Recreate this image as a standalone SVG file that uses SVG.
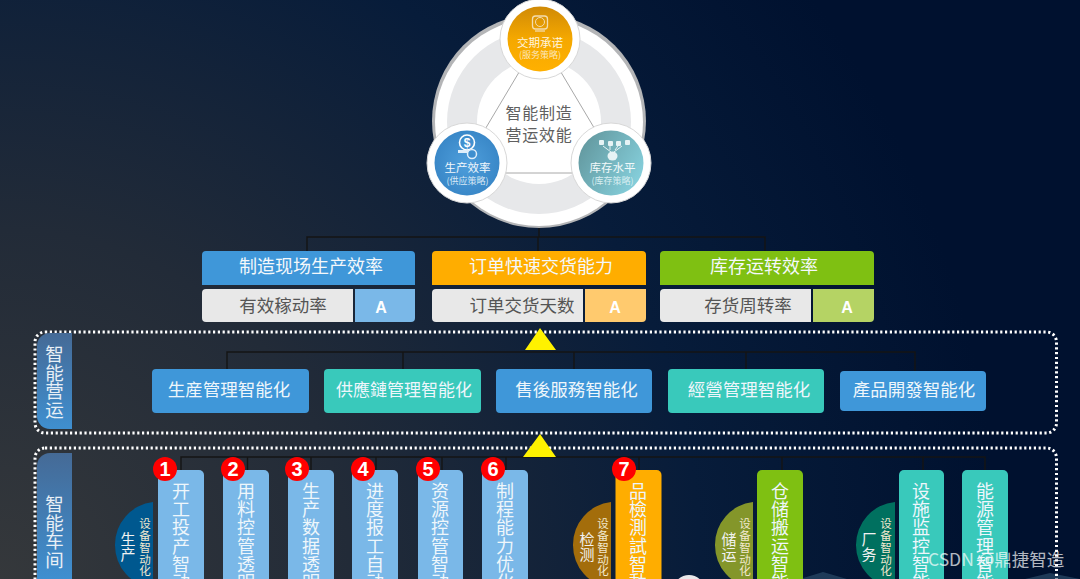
<svg xmlns="http://www.w3.org/2000/svg" width="1080" height="579" viewBox="0 0 1080 579">
<defs>
<radialGradient id="bg" gradientUnits="userSpaceOnUse" cx="0" cy="579" r="1000"><stop offset="0" stop-color="#35383b"/><stop offset=".35" stop-color="#222b38"/><stop offset=".7" stop-color="#071c3a"/><stop offset="1" stop-color="#00112f"/></radialGradient>
<linearGradient id="or" x1="0" y1="0" x2="0" y2="1"><stop offset="0" stop-color="#d08a06"/><stop offset=".5" stop-color="#f5a800"/><stop offset="1" stop-color="#ffb000"/></linearGradient>
<radialGradient id="bl"><stop offset="0" stop-color="#4f9fdc"/><stop offset="1" stop-color="#3a88c8"/></radialGradient>
<linearGradient id="tl" x1="0" y1="0" x2="1" y2=".6"><stop offset="0" stop-color="#5f9298"/><stop offset="1" stop-color="#84cdd9"/></linearGradient>
<linearGradient id="side" x1="0" y1="0" x2="0" y2="1"><stop offset="0" stop-color="#456a96"/><stop offset="1" stop-color="#3f8fd0"/></linearGradient>
</defs>
<style>
text{font-family:"Noto Sans CJK SC","Noto Sans",sans-serif;fill:#fff}
.c{text-anchor:middle}
.v{writing-mode:vertical-rl;text-orientation:upright}
.h1{font-size:18px;text-anchor:middle;fill:#f4f8fb}
.h2{font-size:17.5px;text-anchor:middle;fill:#555}
.a{font:bold 16px "Liberation Sans",sans-serif;text-anchor:middle}
.r{font-size:17.5px;text-anchor:middle;fill:#eef6fb}
.t{font-size:18px;letter-spacing:.3px;fill:#eef6fb}
.s{font-size:11.5px;letter-spacing:.3px;fill:#f2e9cf}
.m{font-size:15px;fill:#f2f2f2}
.lb{font-size:18.5px;fill:#e8eff6}
.frame{fill:none;stroke:#fff;stroke-width:3;stroke-dasharray:2.2 2.6}
.ln{fill:none;stroke:#141414;stroke-width:1.4}
.badge circle{fill:#f00}
.badge text{font:bold 20px "Liberation Sans",sans-serif;text-anchor:middle;fill:#fff}
</style>
<rect width="1080" height="579" fill="url(#bg)"/>
<path d="M800 579L823 572L847 579ZM1025 579L1050 573L1080 579Z" fill="#2b4a68" opacity=".7"/>

<g id="connectors">
<path class="ln" d="M539 227V237M307 251V237H765V251M538 237V251"/>
<path class="ln" d="M227 369V352H915V371M403 352V369M574 352V369M746 352V369"/>
<path class="ln" d="M181 470V457H985V470M247.500 457V470M311 457V470M376 457V470M442 457V470M506 457V470M639 457V470M782 457V470M923 457V470"/>
</g>

<g id="core">
<circle cx="539" cy="121" r="107" fill="#b4b5b7"/>
<circle cx="539" cy="122" r="104" fill="#fff"/>
<circle cx="539" cy="122" r="92" fill="#e7e8ea"/>
<circle cx="539" cy="122" r="62" fill="#fff"/>
<path d="M540 37L459 173H621Z" fill="#fff" stroke="#a8a8a8" stroke-width="1"/>
<text class="c" x="539" y="119" font-size="16" letter-spacing=".8" style="fill:#606060">智能制造</text>
<text class="c" x="539" y="141" font-size="16" letter-spacing=".8" style="fill:#606060">营运效能</text>
</g>

<g id="n-delivery">
<circle cx="540" cy="39" r="40" fill="#fff" stroke="#d8d8d8"/>
<circle cx="540" cy="39" r="32.500" fill="url(#or)"/>
<rect x="532.500" y="16" width="15" height="13" rx="3" fill="none" stroke="#f3dcae" stroke-width="1.300"/>
<circle cx="540" cy="22" r="4.500" fill="none" stroke="#f3dcae"/>
<path d="M535 31H545" stroke="#f3dcae" stroke-width="1.300"/>
<text class="c" x="540" y="47" font-size="11.500" style="fill:#fff4dc">交期承诺</text>
<text class="c" x="540" y="58" font-size="9" style="fill:#fbe6bb">(服务策略)</text>
</g>
<g id="n-efficiency">
<circle cx="467" cy="163" r="40" fill="#fff" stroke="#d8d8d8"/>
<circle cx="467" cy="163" r="32.500" fill="url(#bl)"/>
<circle cx="467" cy="142.500" r="7.500" fill="none" stroke="#fff" stroke-width="1.600"/>
<text class="a" x="467" y="147" style="font-size:12px">$</text>
<rect x="458" y="150" width="12" height="3" fill="#dfeefa"/>
<circle cx="472" cy="154" r="4.500" fill="#3f8fcf" stroke="#dfeefa" stroke-width="1.500"/>
<text class="c" x="467.500" y="172" font-size="11.500" style="fill:#f1f7fc">生产效率</text>
<text class="c" x="467.500" y="184" font-size="9" style="fill:#d8e8f5">(供应策略)</text>
</g>
<g id="n-inventory">
<circle cx="611" cy="163" r="40" fill="#fff" stroke="#d8d8d8"/>
<circle cx="611" cy="163" r="32.500" fill="url(#tl)"/>
<g fill="#e6f3f5"><rect x="599" y="140" width="5" height="5" rx="1"/><rect x="608" y="141" width="5" height="5" rx="1"/><rect x="616" y="141" width="5" height="5" rx="1"/><rect x="625" y="140" width="5" height="5" rx="1"/><ellipse cx="612.500" cy="156" rx="5" ry="4.500"/></g>
<path d="M603 146L611 152M622 146L614 152M610 146V150M618 146L615 150" fill="none" stroke="#e6f3f5"/>
<text class="c" x="612.500" y="172" font-size="11.500" style="fill:#f1f9fa">库存水平</text>
<text class="c" x="612.500" y="184" font-size="9" style="fill:#d8eef1">(库存策略)</text>
</g>

<g id="k1">
<path d="M202 285V255a4 4 0 0 1 4-4H411a4 4 0 0 1 4 4V285Z" fill="#3f97d9"/>
<path d="M353 289H206a4 4 0 0 0-4 4V318a4 4 0 0 0 4 4H353Z" fill="#e8e8e8"/>
<path d="M355 289H415V318a4 4 0 0 1-4 4H355Z" fill="#7ab8e8"/>
<text class="h1" x="311" y="273">制造现场生产效率</text><text class="h2" x="283" y="312">有效稼动率</text><text class="a" x="381" y="313">A</text>
</g>
<g id="k2">
<path d="M432 285V255a4 4 0 0 1 4-4H642a4 4 0 0 1 4 4V285Z" fill="#ffad00"/>
<path d="M583 289H436a4 4 0 0 0-4 4V318a4 4 0 0 0 4 4H583Z" fill="#e8e8e8"/>
<path d="M585 289H646V318a4 4 0 0 1-4 4H585Z" fill="#ffca6e"/>
<text class="h1" x="541" y="273">订单快速交货能力</text><text class="h2" x="522" y="312">订单交货天数</text><text class="a" x="615" y="313">A</text>
</g>
<g id="k3">
<path d="M660 285V255a4 4 0 0 1 4-4H870a4 4 0 0 1 4 4V285Z" fill="#7fc012"/>
<path d="M811 289H664a4 4 0 0 0-4 4V318a4 4 0 0 0 4 4H811Z" fill="#e8e8e8"/>
<path d="M813 289H874V318a4 4 0 0 1-4 4H813Z" fill="#b5d364"/>
<text class="h1" x="764" y="273">库存运转效率</text><text class="h2" x="748" y="312">存货周转率</text><text class="a" x="847" y="313">A</text>
</g>

<g id="frames">
<rect class="frame" x="35" y="332" width="1021.500" height="101" rx="10"/>
<rect class="frame" x="35" y="448" width="1021.500" height="160" rx="10"/>
<path d="M72 333H50a13 13 0 0 0-13 13V416a13 13 0 0 0 13 13H72Z" fill="url(#side)"/>
<path d="M72 453H50a13 13 0 0 0-13 13V579H72Z" fill="url(#side)"/>
<text class="v lb" x="54.500" y="345">智能营运</text>
<text class="v lb" x="54.500" y="495">智能车间</text>
<path d="M525 350L540 328L556 350ZM523 457L540 434L556 457Z" fill="#fff200"/>
</g>

<g id="o1"><rect x="152" y="369" width="157" height="44" rx="4" fill="#3f97d9"/><text class="r" x="229" y="396">生産管理智能化</text></g>
<g id="o2"><rect x="324" y="369" width="157" height="44" rx="4" fill="#39c9bb"/><text class="r" x="404" y="396" style="font-size:17px">供應鏈管理智能化</text></g>
<g id="o3"><rect x="496" y="369" width="156" height="44" rx="4" fill="#3f97d9"/><text class="r" x="576.500" y="396">售後服務智能化</text></g>
<g id="o4"><rect x="668" y="369" width="156" height="44" rx="4" fill="#39c9bb"/><text class="r" x="749" y="396">經營管理智能化</text></g>
<g id="o5"><rect x="840" y="371" width="146" height="40" rx="4" fill="#3f97d9"/><text class="r" x="914" y="396">產品開發智能化</text></g>

<g id="z1"><path d="M153 502A43 43 0 0 0 115 545A43 43 0 0 0 153 588Z" fill="#00588f"/><text class="v m" x="128" y="532">生产</text><text class="v s" x="145" y="518">设备智动化</text></g>
<g id="z2"><path d="M611 502A43 43 0 0 0 573 545A43 43 0 0 0 611 588Z" fill="#a36d0b"/><text class="v m" x="587" y="532">检测</text><text class="v s" x="603" y="518">设备智动化</text></g>
<g id="z3"><path d="M753 502A43 43 0 0 0 715 545A43 43 0 0 0 753 588Z" fill="#84962a"/><text class="v m" x="729" y="532">储运</text><text class="v s" x="745" y="518">设备智动化</text></g>
<g id="z4"><path d="M895 502A43 43 0 0 0 856 545A43 43 0 0 0 895 588Z" fill="#00705f"/><text class="v m" x="869" y="532">厂务</text><text class="v s" x="886" y="518">设备智动化</text></g>

<g id="b1"><rect x="158" y="470" width="46" height="130" rx="5" fill="#7ab8e8"/><text class="v t" x="181" y="482">开工投产智动</text></g>
<g id="b2"><rect x="223" y="470" width="46" height="130" rx="5" fill="#7ab8e8"/><text class="v t" x="246" y="482">用料控管透明</text></g>
<g id="b3"><rect x="288" y="470" width="46" height="130" rx="5" fill="#7ab8e8"/><text class="v t" x="311" y="482">生产数据透明</text></g>
<g id="b4"><rect x="352" y="470" width="46" height="130" rx="5" fill="#7ab8e8"/><text class="v t" x="375" y="482">进度报工自动</text></g>
<g id="b5"><rect x="418" y="470" width="45" height="130" rx="5" fill="#7ab8e8"/><text class="v t" x="440" y="482">资源控管智动</text></g>
<g id="b6"><rect x="482" y="470" width="46" height="130" rx="5" fill="#7ab8e8"/><text class="v t" x="505" y="482">制程能力优化</text></g>
<g id="b7"><rect x="615.500" y="470" width="46" height="130" rx="5" fill="#ffad00"/><text class="v t" x="638" y="482">品檢測試智動</text></g>
<g id="b8"><rect x="757" y="470" width="46" height="130" rx="5" fill="#7fc012"/><text class="v t" x="780" y="482">仓储搬运智能</text></g>
<g id="b9"><rect x="899" y="470" width="45" height="130" rx="5" fill="#39c9bb"/><text class="v t" x="921" y="482">设施监控智能</text></g>
<g id="b10"><rect x="962" y="470" width="46" height="130" rx="5" fill="#39c9bb"/><text class="v t" x="985" y="482">能源管理智能</text></g>

<g id="badges">
<g class="badge"><circle cx="165" cy="469" r="12"/><text x="165" y="476">1</text></g>
<g class="badge"><circle cx="233" cy="469" r="12"/><text x="233" y="476">2</text></g>
<g class="badge"><circle cx="297" cy="469" r="12"/><text x="297" y="476">3</text></g>
<g class="badge"><circle cx="363" cy="469" r="12"/><text x="363" y="476">4</text></g>
<g class="badge"><circle cx="428" cy="469" r="12"/><text x="428" y="476">5</text></g>
<g class="badge"><circle cx="493" cy="469" r="12"/><text x="493" y="476">6</text></g>
<g class="badge"><circle cx="624" cy="469" r="12"/><text x="624" y="476">7</text></g>
</g>
<circle cx="689" cy="591" r="16" fill="#e8e8ea"/>
<text x="928" y="566" font-size="17.500" style="fill:#fff;opacity:.7">CSDN @鼎捷智造</text>
</svg>
